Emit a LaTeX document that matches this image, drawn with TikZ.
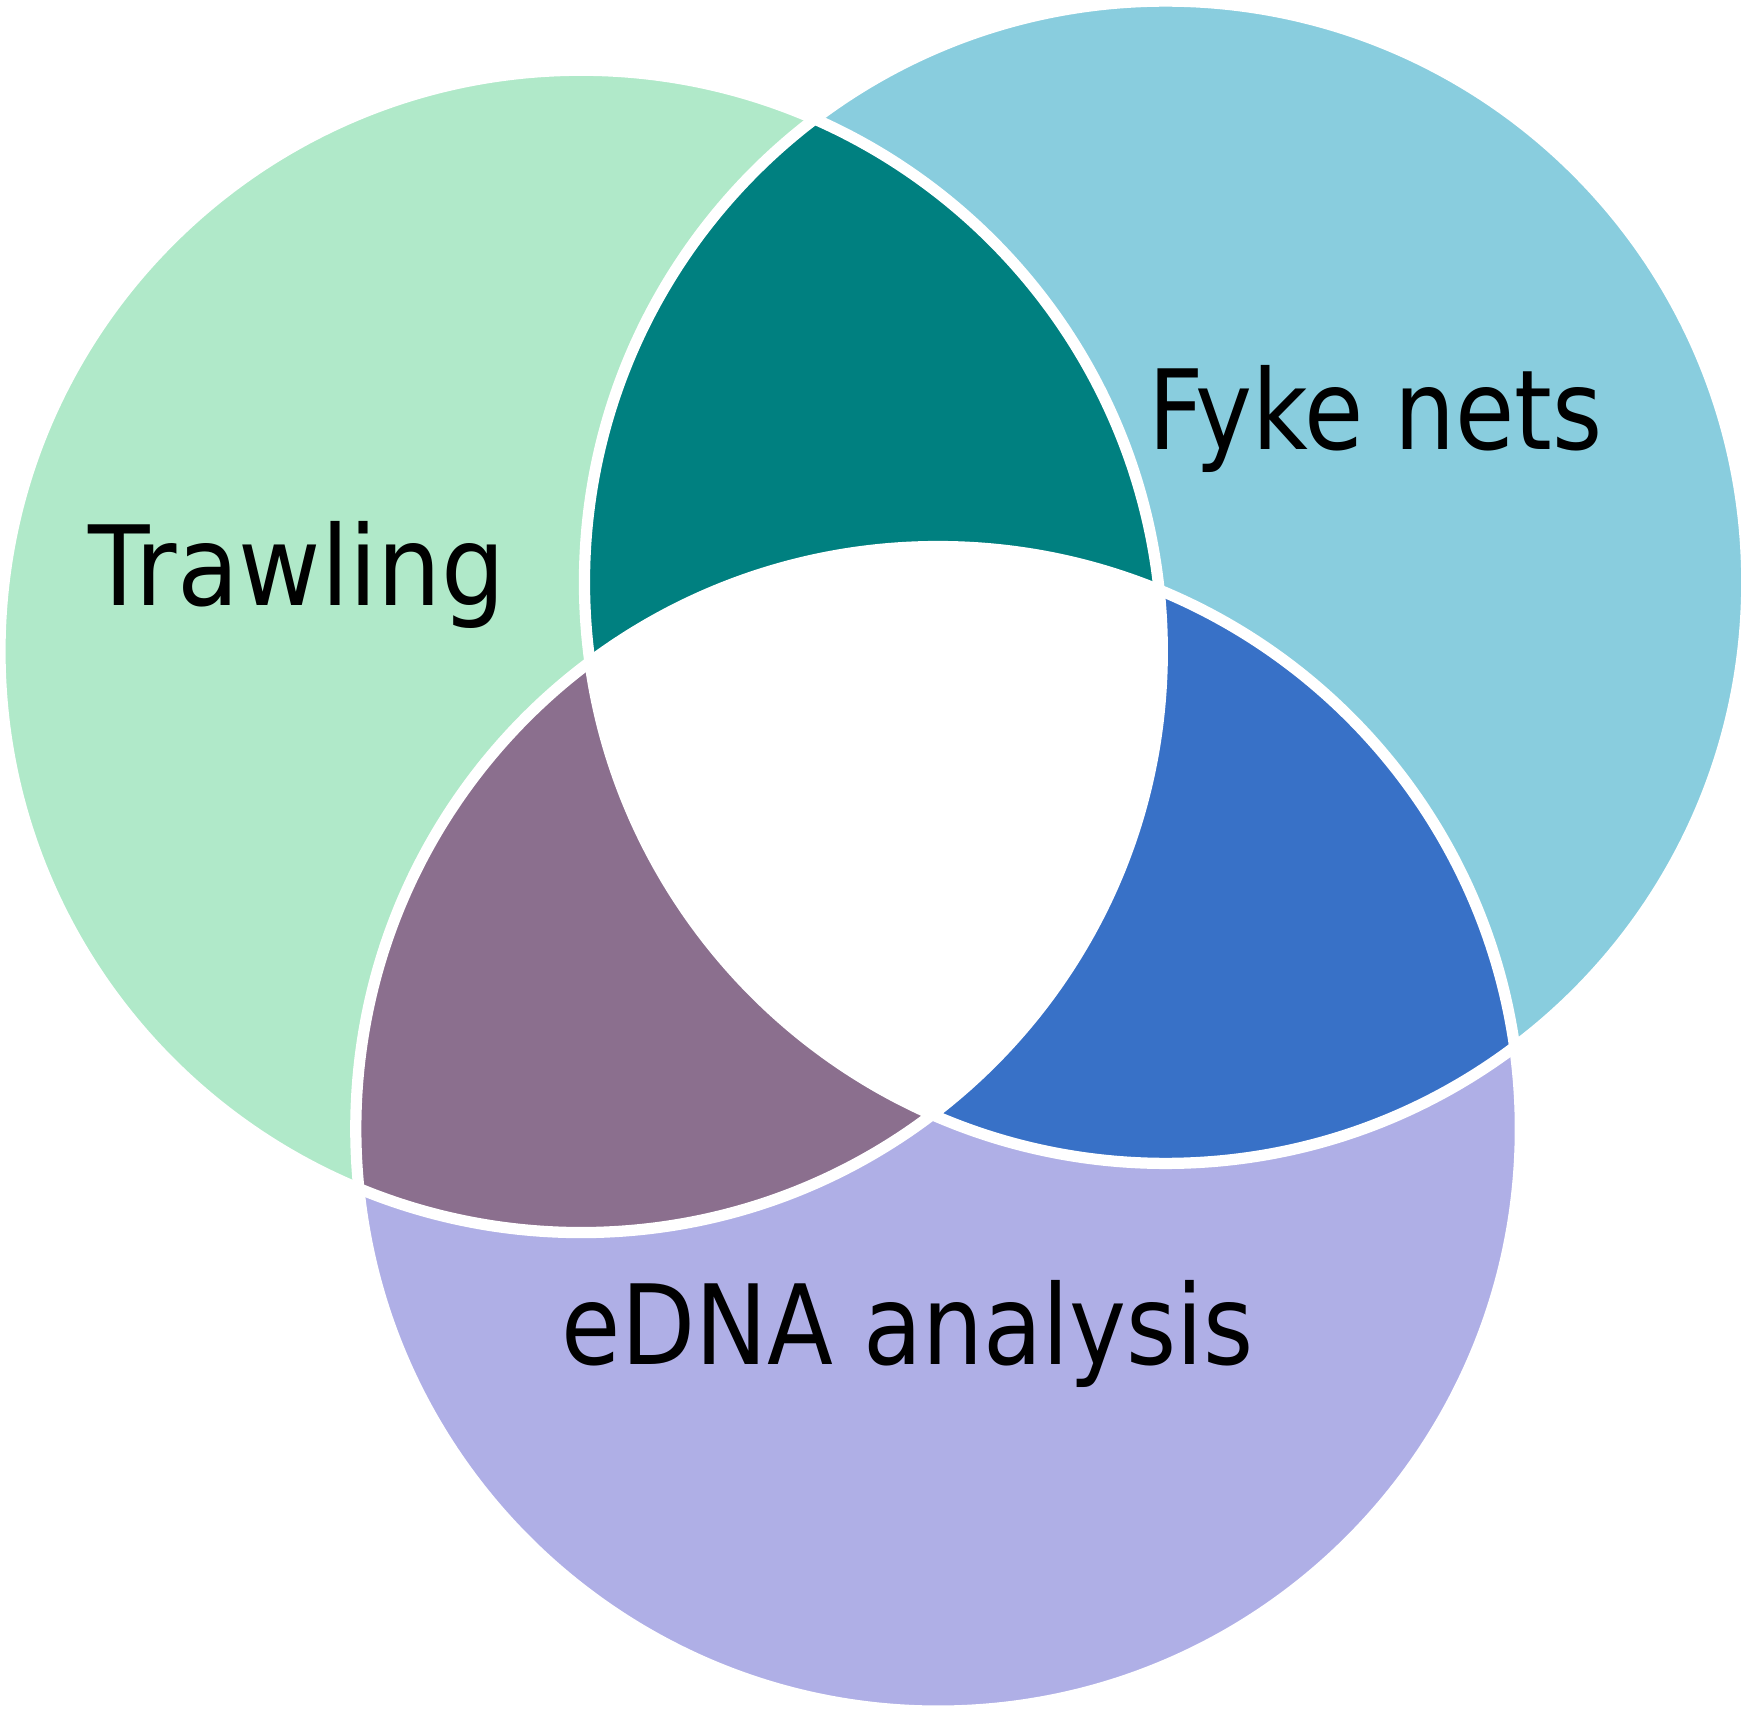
\documentclass[tikz,border=0pt]{standalone}
\usepackage{fontspec}
\newfontfamily\lblfont{DejaVu Sans}[FakeStretch=0.87]
\newfontfamily\lblfontw{DejaVu Sans}[FakeStretch=0.91]
\definecolor{cgreen}{RGB}{176,233,201}
\definecolor{cfyke}{RGB}{137,205,222}
\definecolor{cteal}{RGB}{0,128,128}
\definecolor{cmauve}{RGB}{139,111,142}
\definecolor{cblue}{RGB}{56,113,199}
\definecolor{clav}{RGB}{175,175,230}
\newcommand\TrawlCirc{(521,584) circle[radius=5.8112cm]}
\newcommand\FykeCirc{(1045,522) circle[radius=5.8112cm]}
\newcommand\EdnaCirc{(841,1012) circle[radius=5.8224cm]}
\begin{document}
\begin{tikzpicture}[x=0.011154cm, y=-0.011154cm,
  lbl/.style={font=\lblfont\fontsize{31.5}{36}\selectfont, inner sep=0pt, anchor=base west, text=black},
  gap/.style={draw=white, line width=3.2pt}]
\useasboundingbox (0,0) rectangle (1568,1533);

% single sets
\fill[cgreen] \TrawlCirc;
\fill[cfyke] \FykeCirc;
\fill[clav] \EdnaCirc;

% pairwise intersections
\begin{scope}
  \clip \TrawlCirc;
  \fill[cteal] \FykeCirc;
  \fill[cmauve] \EdnaCirc;
\end{scope}
\begin{scope}
  \clip \FykeCirc;
  \fill[cblue] \EdnaCirc;
\end{scope}

% triple intersection (white)
\begin{scope}
  \clip \TrawlCirc;
  \clip \FykeCirc;
  \fill[white] \EdnaCirc;
\end{scope}

% white gaps along every circle
\path[gap] \TrawlCirc;
\path[gap] \FykeCirc;
\path[gap] \EdnaCirc;

% Labels
\node[lbl, font=\lblfontw\fontsize{31.5}{36}\selectfont] (trawling) at (79,543) {Trawling};
\node[lbl] (fyke) at (1029,403) {Fyke nets};
\node[lbl] (edna) at (503,1223) {eDNA analysis};
\end{tikzpicture}
\end{document}
